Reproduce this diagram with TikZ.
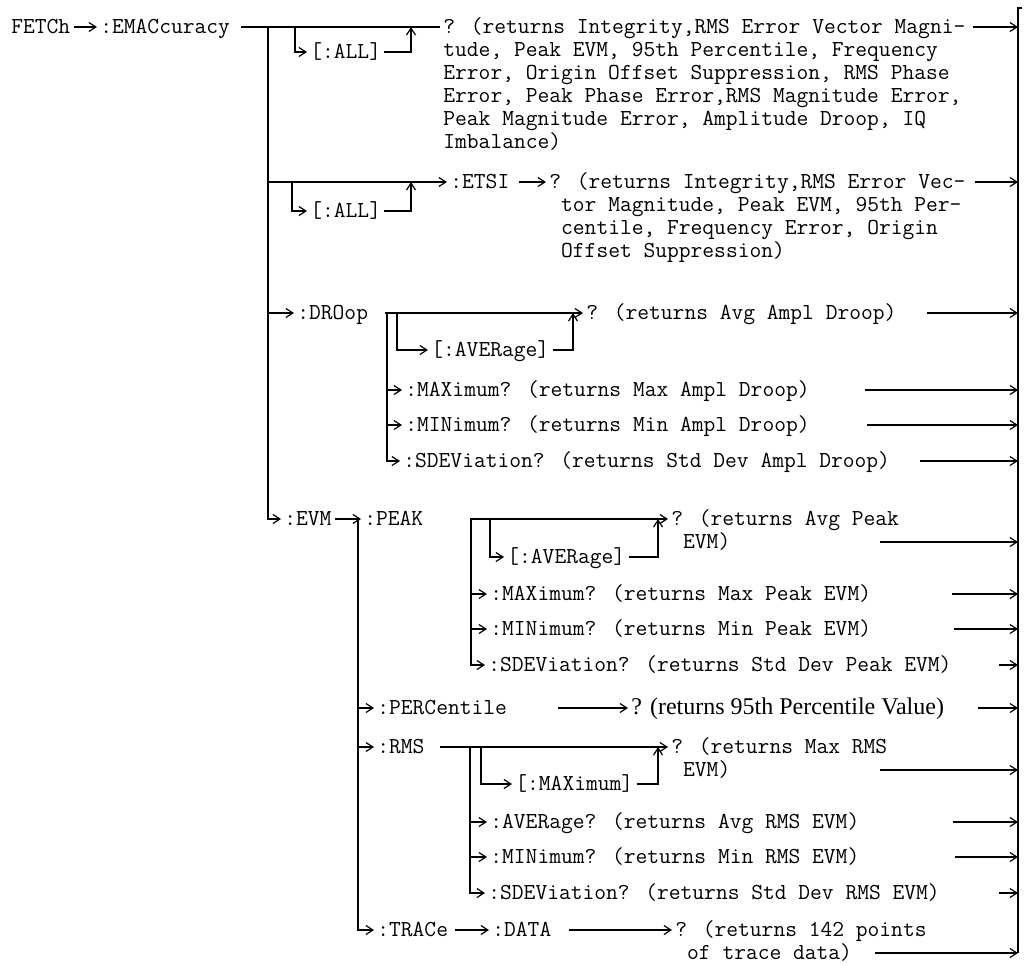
\documentclass[tikz,border=0pt]{standalone}
\usepackage{fontspec}
\setmainfont{Liberation Serif}
\usepackage{tikz}
\usetikzlibrary{arrows.meta, positioning, calc}
\newcommand{\blkstrut}{\rule{0pt}{9pt}}
\tikzset{
  cmd/.style={font=\ttfamily\fontsize{11.43}{11.5}\selectfont, anchor=west,
              inner xsep=1.5pt, inner ysep=0pt, text height=8pt, text depth=2pt},
  blk/.style={font=\ttfamily\fontsize{11.43}{11.5}\selectfont, anchor=north west,
              align=left, inner xsep=1.5pt, inner ysep=0pt},
  sft/.style={font=\fontsize{12}{14}\selectfont, anchor=west,
              inner xsep=1.5pt, inner ysep=0pt, text height=8pt, text depth=2pt},
  ln/.style={line width=0.6pt},
  arr/.style={ln, -{Straight Barb[length=3.5pt,width=4.5pt]}},
}
\begin{document}
\begin{tikzpicture}[x=0.5pt, y=-0.5pt]
  \useasboundingbox (0,0) rectangle (1026,965);
  % right-hand return bus
  \coordinate (bus) at (1018,8);
  \coordinate (busend) at (1018,953);
  \draw[ln] (1022,8) -- (bus) -- (busend);

  \node[cmd] (fetch) at (8,27) {FETCh};
  \node[cmd] (emac) at (97,27) {:EMACcuracy};
  \draw[arr] (fetch) -- (emac);

  \node[blk] (b1) at (440,15) {\blkstrut? (returns Integrity,RMS Error Vector Magni-\\tude, Peak EVM, 95th Percentile, Frequency\\Error, Origin Offset Suppression, RMS Phase\\Error, Peak Phase Error,RMS Magnitude Error,\\Peak Magnitude Error, Amplitude Droop, IQ\\Imbalance)};
  \draw[ln] ([xshift=4pt]emac.east) -- (emac.east -| b1.west);
  \coordinate (b1r) at ([xshift=2pt,yshift=-6pt]b1.north east);
  \draw[arr] (b1r) -- (b1r -| bus);

  \node[cmd] (all1) at (307,52) {[:ALL]};
  \coordinate (a1) at (295,27);
  \coordinate (j1) at (411,27);
  \draw[arr] (a1) |- (all1.west);
  \draw[arr] (all1.east) -| (j1);

  % main trunk
  \coordinate (tk) at (268,27);
  \node[cmd] (etsi) at (447,182) {:ETSI};
  \node[cmd] (drp) at (294,313) {:DROop};
  \node[cmd] (evm) at (281,519) {:EVM};
  \draw[arr] (tk) |- (evm.west);
  \draw[arr] (tk |- etsi) -- (etsi.west);
  \draw[arr] (tk |- drp) -- (drp.west);

  \node[cmd] (all2) at (307,211) {[:ALL]};
  \coordinate (a2) at (292,182);
  \coordinate (j2) at (411,182);
  \draw[arr] (a2) |- (all2.west);
  \draw[arr] (all2.east) -| (j2);
  \node[blk] (e1) at (546,170) {\blkstrut? (returns Integrity,RMS Error Vec-\\\hphantom{?}tor Magnitude, Peak EVM, 95th Per-\\\hphantom{?}centile, Frequency Error, Origin\\\hphantom{?}Offset Suppression)};
  \draw[arr] ([xshift=3pt]etsi.east) -- (etsi -| e1.west);
  \coordinate (e1r) at ([xshift=3pt,yshift=-6pt]e1.north east);
  \draw[arr] (e1r) -- (e1r -| bus);

  % DROop
  \node[cmd] (davg) at (583,313) {? (returns Avg Ampl Droop)};
  \node[cmd] (dall) at (428,350) {[:AVERage]};
  \node[cmd] (dmax) at (402,390) {:MAXimum? (returns Max Ampl Droop)};
  \node[cmd] (dmin) at (402,425) {:MINimum? (returns Min Ampl Droop)};
  \node[cmd] (dsd) at (400,461) {:SDEViation? (returns Std Dev Ampl Droop)};
  \coordinate (d0) at (385,313);
  \coordinate (dv) at (387,313);
  \coordinate (dv2) at (397,313);
  \coordinate (dj) at (573,313);
  \draw[arr] (d0) -- (davg.west);
  \draw[arr] (dv) |- (dsd.west);
  \draw[arr] (dv |- dmax) -- (dmax.west);
  \draw[arr] (dv |- dmin) -- (dmin.west);
  \draw[arr] (dv2) |- (dall.west);
  \draw[arr] (dall.east) -| (dj);
  \draw[arr] ([xshift=13.5pt]davg.east) -- (davg -| bus);
  \draw[arr] ([xshift=26pt]dmax.east) -- (dmax -| bus);
  \draw[arr] ([xshift=27pt]dmin.east) -- (dmin -| bus);
  \draw[arr] ([xshift=13.5pt]dsd.east) -- (dsd -| bus);

  % EVM
  \node[cmd] (peak) at (361,519) {:PEAK};
  \node[cmd] (perc) at (374,708) {:PERCentile};
  \node[cmd] (rms) at (374,747) {:RMS};
  \node[cmd] (trc) at (374,930) {:TRACe};
  \coordinate (ev) at (358,519);
  \draw[arr] (evm.east) -- (peak.west);
  \draw[arr] (ev) |- (trc.west);
  \draw[arr] (ev |- perc) -- (perc.west);
  \draw[arr] (ev |- rms) -- (rms.west);

  % PEAK
  \node[blk] (pq) at (668,507) {\blkstrut? (returns Avg Peak\\\hphantom{?}EVM)};
  \node[cmd] (pall) at (504,557) {[:AVERage]};
  \node[cmd] (pmax) at (487,594) {:MAXimum? (returns Max Peak EVM)};
  \node[cmd] (pmin) at (487,629) {:MINimum? (returns Min Peak EVM)};
  \node[cmd] (psd) at (485,665) {:SDEViation? (returns Std Dev Peak EVM)};
  \coordinate (p0) at (470,519);
  \coordinate (pv) at (471,519);
  \coordinate (pv2) at (490,519);
  \coordinate (pj) at (658,519);
  \draw[arr] (p0) -- (p0 -| pq.west);
  \draw[arr] (pv) |- (psd.west);
  \draw[arr] (pv |- pmax) -- (pmax.west);
  \draw[arr] (pv |- pmin) -- (pmin.west);
  \draw[arr] (pv2) |- (pall.west);
  \draw[arr] (pall.east) -| (pj);
  \coordinate (pqr) at ([xshift=106pt,yshift=-17.5pt]pq.north west);
  \draw[arr] (pqr) -- (pqr -| bus);
  \draw[arr] ([xshift=39pt]pmax.east) -- (pmax -| bus);
  \draw[arr] ([xshift=40pt]pmin.east) -- (pmin -| bus);
  \draw[arr] ([xshift=22pt]psd.east) -- (psd -| bus);

  % PERCentile
  \node[sft] (pcq) at (628,708) {? (returns 95th Percentile Value)};
  \draw[arr] ([xshift=24pt]perc.east) -- (pcq.west);
  \draw[arr] ([xshift=15.5pt]pcq.east) -- (pcq -| bus);

  % RMS
  \node[blk] (rq) at (668,735) {\blkstrut? (returns Max RMS\\\hphantom{?}EVM)};
  \node[cmd] (rall) at (512,784) {[:MAXimum]};
  \node[cmd] (ravg) at (487,822) {:AVERage? (returns Avg RMS EVM)};
  \node[cmd] (rmin) at (487,857) {:MINimum? (returns Min RMS EVM)};
  \node[cmd] (rsd) at (485,893) {:SDEViation? (returns Std Dev RMS EVM)};
  \coordinate (r0) at (440,747);
  \coordinate (rv) at (470,747);
  \coordinate (rv2) at (481,747);
  \coordinate (rj) at (658,747);
  \draw[arr] (r0) -- (r0 -| rq.west);
  \draw[arr] (rv) |- (rsd.west);
  \draw[arr] (rv |- ravg) -- (ravg.west);
  \draw[arr] (rv |- rmin) -- (rmin.west);
  \draw[arr] (rv2) |- (rall.west);
  \draw[arr] (rall.east) -| (rj);
  \coordinate (rqr) at ([xshift=106pt,yshift=-17.5pt]rq.north west);
  \draw[arr] (rqr) -- (rqr -| bus);
  \draw[arr] ([xshift=45pt]ravg.east) -- (ravg -| bus);
  \draw[arr] ([xshift=46pt]rmin.east) -- (rmin -| bus);
  \draw[arr] ([xshift=28pt]rsd.east) -- (rsd -| bus);

  % TRACe
  \node[cmd] (dat) at (489,930) {:DATA};
  \node[blk] (tq) at (672,918) {\blkstrut? (returns 142 points\\\hphantom{?}of trace data)};
  \draw[arr] ([xshift=2pt]trc.east) -- (dat.west);
  \draw[arr] ([xshift=7pt]dat.east) -- (dat -| tq.west);
  \coordinate (tqr) at ([xshift=101.5pt,yshift=-17.5pt]tq.north west);
  \draw[arr] (tqr) -- (tqr -| bus);
\end{tikzpicture}
\end{document}
